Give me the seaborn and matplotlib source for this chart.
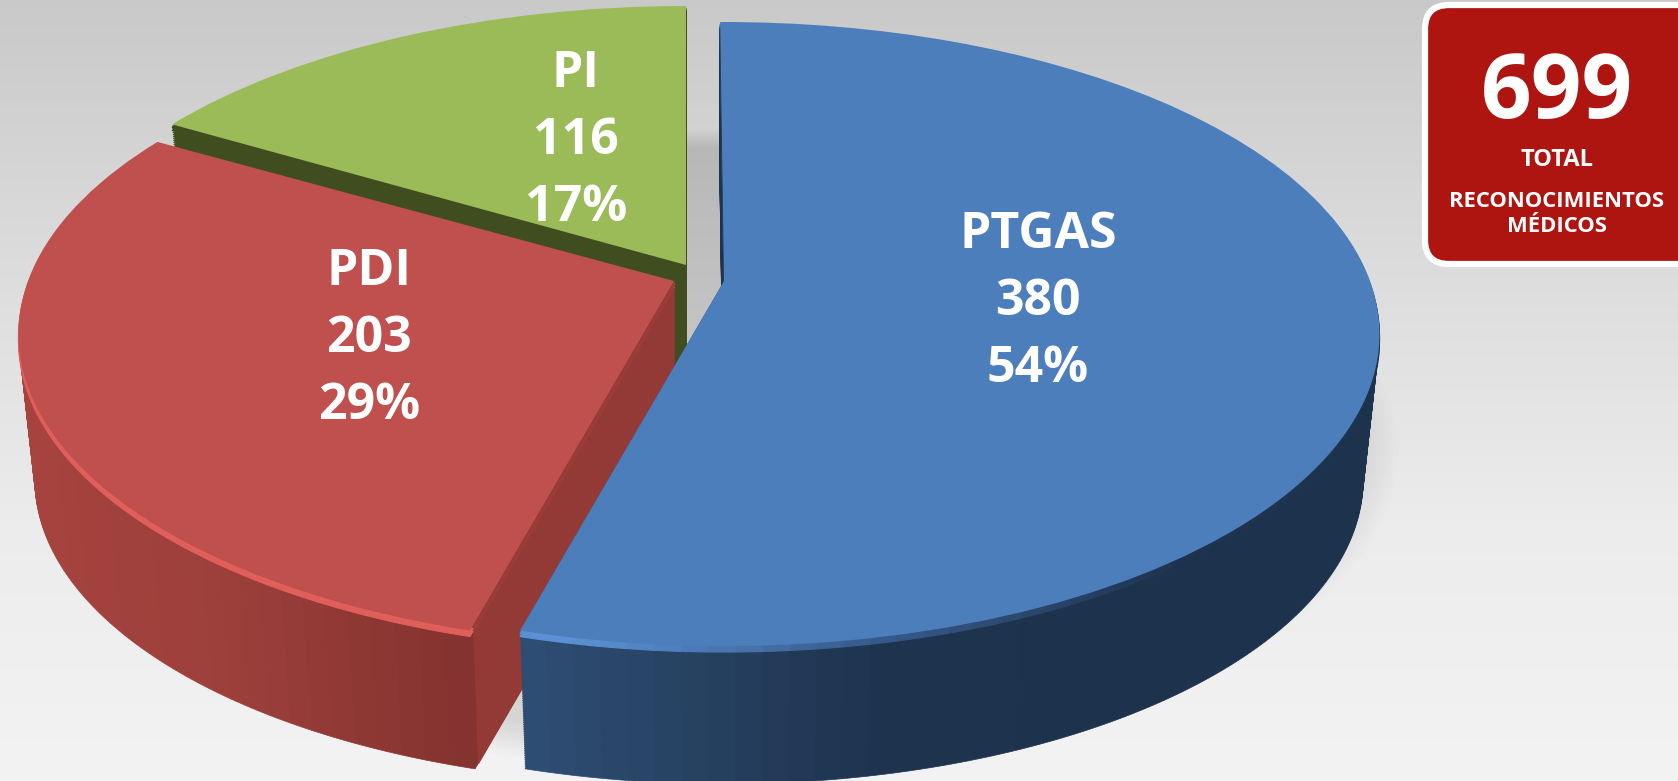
import numpy as np
import pandas as pd
import matplotlib
matplotlib.use("Agg")
import matplotlib.pyplot as plt
import matplotlib.transforms as mtransforms
from matplotlib.patches import FancyBboxPatch
import seaborn as sns

# Data
categories = ["PI", "PDI", "PTGAS"]
counts = [116, 203, 380]
percents = [17, 29, 54]
total_label = "699"
badge_lines = ["TOTAL", "RECONOCIMIENTOS\nMÉDICOS"]

# Style
top_colors = {"PI": "#9bbb59", "PDI": "#bf504d", "PTGAS": "#4d7ebc"}
cut_colors = {"PI": "#3f4d1f", "PDI": "#953b37", "PTGAS": "#1e334e"}
side_ramps = {
    "PI": ["#3f4d1f", "#3f4d1f"],
    "PDI": ["#a8443f", "#9c3f3b", "#7d2f2c", "#7d2f2c", "#7d2f2c", "#7d2f2c"],
    "PTGAS": ["#3a6494", "#345a85", "#2c4a6e", "#1e334e", "#1d324c", "#1d324c"],
}
rim_ramps = {
    "PI": ["#3f4d1f", "#3f4d1f"],
    "PDI": ["#e05f5b", "#e05f5b", "#dc5c58", "#c9534f"],
    "PTGAS": ["#5c95da", "#5c95da", "#5a90d3", "#36598a", "#1e334e", "#1e334e"],
}
apexes = {"PI": (686, 265), "PDI": (674, 281), "PTGAS": (724, 281)}
RX, RY, TILT = 646, 303, 0.17
DEPTH, SHRINK, LAYERS = 147, 0.025, 75
START = 90.4

sns.set_theme(style="white")
plt.rcParams["font.family"] = ["Open Sans", "DejaVu Sans"]


class TiltedDisc(mtransforms.Transform):
    # Unit disc seen in perspective, moved down by its depth
    input_dims = 2
    output_dims = 2
    has_inverse = False

    def __init__(self, apex, drop=0.0, shrink=0.0):
        super().__init__()
        self.apex, self.drop, self.factor = apex, drop, 1 - shrink

    def transform_non_affine(self, values):
        values = np.asarray(values)
        w = 1 + TILT * values[:, 1]
        px = self.apex[0] + self.factor * RX * values[:, 0] / w
        py = self.apex[1] + self.drop - self.factor * RY * values[:, 1] / w
        return np.column_stack([px, py])


def ramp_colors(ramp, thetas):
    # Colour follows the horizontal position of each sub-slice
    palette = sns.blend_palette(ramp, 128)
    return [palette[int((np.cos(np.radians(t)) + 1) / 2 * 127)] for t in thetas]


def draw_pie(ax, frac, start, colors, apex, drop=0.0, shrink=0.0, radius=1.0, **wedge):
    wedges, _ = ax.pie(frac, startangle=start, counterclock=False, normalize=False,
                       colors=colors, radius=radius, labeldistance=None,
                       wedgeprops=dict(transform=TiltedDisc(apex, drop, shrink) + ax.transData,
                                       **wedge))
    # Edges in the wedge's own colour hide the seams between sub-slices
    for w in wedges:
        w.set_edgecolor(w.get_facecolor())


df = pd.DataFrame({"name": categories, "count": counts, "pct": percents})
df["frac"] = df["count"] / df["count"].sum()
# Slices run clockwise PTGAS, PDI, PI from the top
starts = {}
angle = START
for name in ["PTGAS", "PDI", "PI"]:
    starts[name] = angle
    angle -= 360 * df.loc[df["name"] == name, "frac"].iloc[0]
# The PI slice stands upright at its right edge
starts["PI"] -= 0.4

fig = plt.figure(figsize=(16.78, 7.81), dpi=100)
ax = fig.add_axes([0, 0, 1, 1])

# Background gradient
bg = sns.blend_palette(["#c9c9c9", "#dcdcdc", "#ececec", "#f3f3f3"], 256)
ax.imshow(np.array(bg)[:, None, :], extent=(0, 1678, 781, 0), aspect="auto", zorder=0)

# Soft shadow under the pie
for i in range(14):
    draw_pie(ax, [1.0], 0, ["#000000"], (722, 300), drop=95, radius=1.03 - 0.006 * i,
             alpha=0.007, linewidth=0)

for name in categories:
    frac = df.loc[df["name"] == name, "frac"].iloc[0]
    n_sub = max(int(frac * 180), 8)
    sub = [frac / n_sub] * n_sub
    thetas = starts[name] - 360 * frac * (np.arange(n_sub) + 0.5) / n_sub
    side = ramp_colors(side_ramps[name], thetas)
    rim = ramp_colors(rim_ramps[name], thetas)
    apex = apexes[name]
    cut = cut_colors[name]
    # Side wall, back layer first
    for k in range(LAYERS, 0, -1):
        t = k / LAYERS
        drop = DEPTH * t
        draw_pie(ax, sub, starts[name], side, apex, drop, SHRINK * t, linewidth=0.5)
        draw_pie(ax, [frac], starts[name], [cut], apex, drop, SHRINK * t,
                 radius=0.985, linewidth=1.2)
    # Light bevel, then the top face
    for d in (6, 3):
        draw_pie(ax, sub, starts[name], rim, apex, d, 0, linewidth=0.8)
        draw_pie(ax, [frac], starts[name], [cut], apex, d, 0, radius=0.985, linewidth=1.0)
    draw_pie(ax, [frac], starts[name], [top_colors[name]], apex, 0, 0, linewidth=0)

# Slice labels
label_pos = {"PI": (576, 141), "PDI": (369, 339), "PTGAS": (1038, 302)}
for _, row in df.iterrows():
    x, y = label_pos[row["name"]]
    ax.text(x, y, f"{row['name']}\n{row['count']}\n{row['pct']}%", color="white",
            fontsize=36, fontweight="bold", ha="center", va="center",
            linespacing=1.46)

# Total badge
ax.add_patch(FancyBboxPatch((1425, 5), 320, 259, boxstyle="round,pad=0,rounding_size=24",
                            facecolor="#ae1510", edgecolor="white", linewidth=4.5,
                            clip_on=True, zorder=4))
ax.text(1557, 95, total_label, color="white", fontsize=64, fontweight="bold",
        ha="center", va="center", zorder=5)
ax.text(1557, 160, badge_lines[0], color="white", fontsize=17, fontweight="bold",
        ha="center", va="center", zorder=5)
ax.text(1557, 214, badge_lines[1], color="white", fontsize=15.8, fontweight="bold",
        ha="center", va="center", linespacing=1.21, zorder=5)

ax.set_aspect("auto")
ax.set_xlim(0, 1678)
ax.set_ylim(781, 0)
ax.axis("off")
fig.savefig("out.png", dpi=100)
